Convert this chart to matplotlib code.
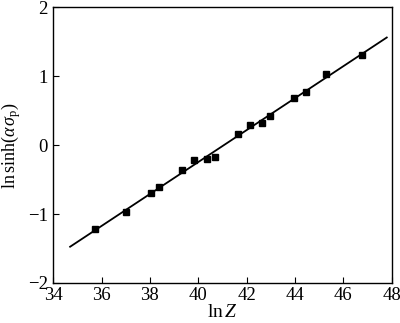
import numpy as np
import matplotlib
matplotlib.use("Agg")
import matplotlib.pyplot as plt

plt.rcParams['font.family'] = ['Liberation Serif', 'DejaVu Serif']
plt.rcParams['mathtext.fontset'] = 'custom'
plt.rcParams['mathtext.rm'] = 'Liberation Serif'
plt.rcParams['mathtext.it'] = 'Liberation Serif:italic'

# valores
ln_z = [35.74, 37.02, 38.05, 38.38, 39.33, 39.83, 40.36, 40.69,
        41.64, 42.14, 42.64, 42.97, 43.96, 44.45, 45.28, 46.77]
ln_sinh = [-1.22, -0.97, -0.70, -0.61, -0.36, -0.22, -0.20, -0.17,
           0.16, 0.30, 0.32, 0.42, 0.68, 0.77, 1.03, 1.31]
fit_range = [34.7, 47.8]

# ajuste lineal
k, b = np.polyfit(ln_z, ln_sinh, 1)
xf = np.array(fit_range)

fig = plt.figure(figsize=(4.0, 3.23), dpi=100)
ax = fig.add_axes([0.133, 0.124, 0.846, 0.853])

ax.plot(xf, k * xf + b, color='black', lw=1.3)
ax.plot(ln_z, ln_sinh, 's', color='black', ms=4.5)

ax.set_xlim(34, 48)
ax.set_ylim(-2, 2)
ax.set_xticks(range(34, 49, 2))
ax.set_yticks([-2, -1, 0, 1, 2])
ax.tick_params(direction='in', labelsize=13.5, length=4, width=0.8)
ax.tick_params(axis='x', pad=3)
ax.tick_params(axis='y', pad=4)
for s in ax.spines.values():
    s.set_linewidth(1.0)

ax.set_xlabel(r'$\mathrm{ln}\,Z$', fontsize=14, labelpad=0)
ax.set_ylabel(r'$\mathrm{ln\,sinh}(\alpha\,\sigma_{\mathrm{p}})$', fontsize=13, labelpad=3)

fig.savefig('out.png', dpi=100)
